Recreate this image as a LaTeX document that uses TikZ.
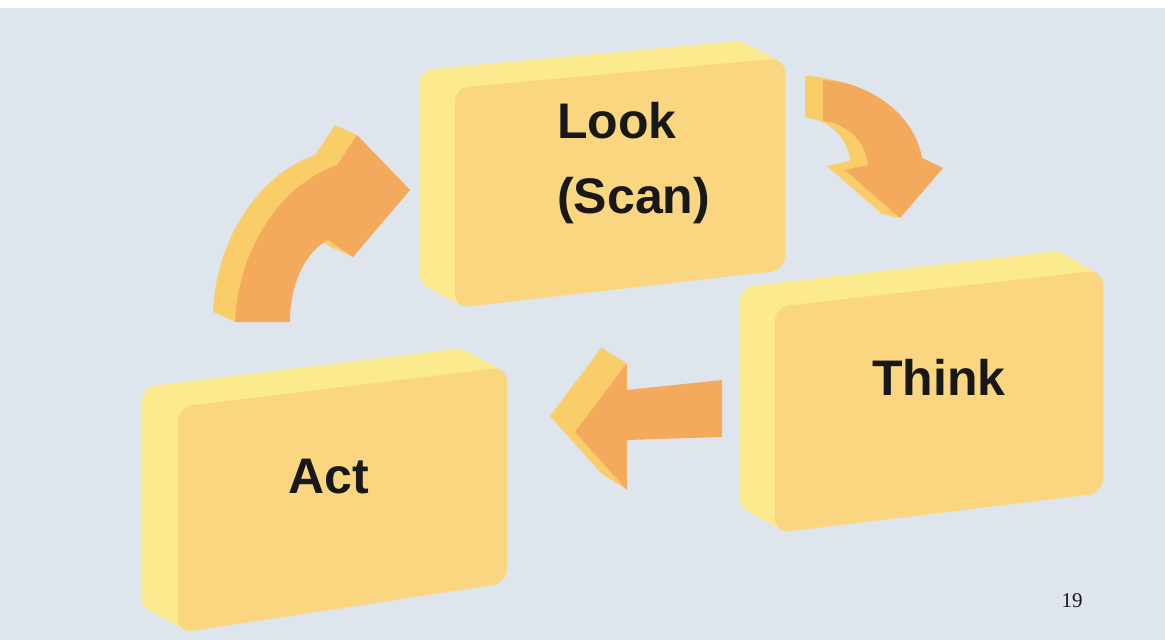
\documentclass[tikz,border=0pt]{standalone}
\usepackage{fontspec}
\setmainfont{Liberation Sans}
\newfontfamily\pagefont{Liberation Serif}
\definecolor{bgc}{RGB}{222,229,237}
\definecolor{boxface}{RGB}{250,214,128}
\definecolor{boxside}{RGB}{252,234,142}
\definecolor{arrface}{RGB}{244,170,92}
\definecolor{arrside}{RGB}{249,205,104}
\definecolor{txt}{RGB}{24,24,24}
\tikzset{
  boxfrontstyle/.style={fill=boxface, rounded corners=14pt},
  boxsidestyle/.style={fill=boxside, rounded corners=14pt},
  arrfrontstyle/.style={fill=arrface},
  arrsidestyle/.style={fill=arrside},
  label/.style={font=\bfseries\fontsize{50}{60}\selectfont, text=txt, inner sep=0pt},
  pagelabel/.style={font=\pagefont\fontsize{21}{25}\selectfont, text=txt, inner sep=0pt}
}
% 3D box: four front corners, depth vector
\newcommand\cubebox[6]{%
  \foreach \k in {1,...,24}{%
    \fill[boxsidestyle,shift={({#5*\k/24},{#6*\k/24})}] #1 -- #2 -- #3 -- #4 -- cycle;}%
  \fill[boxfrontstyle] #1 -- #2 -- #3 -- #4 -- cycle;}
% extruded side of a shape: depth vector and path
\newcommand\extrudeside[3]{%
  \foreach \k in {1,...,24}{%
    \fill[arrsidestyle,shift={({#1*\k/24},{#2*\k/24})}] #3;}}
\begin{document}
\begin{tikzpicture}[x=1pt,y=-1pt]
\useasboundingbox (0,0) rectangle (1165,640);
\fill[bgc] (0,0) rectangle (1165,640);
\fill[white] (0,0) rectangle (1165,8);

% Look box
\cubebox{(455,88)}{(785,58)}{(785,270)}{(455,308)}{-35}{-18}
\node[label, anchor=base west] (look) at (557,138) {Look};
\node[label, anchor=base west] (scan) at (557,213) {(Scan)};

% Think box
\cubebox{(775,307)}{(1103,270)}{(1103,493)}{(775,533)}{-35}{-20}
\node[label, anchor=base west] (think) at (872,395) {Think};

% Act box
\cubebox{(178,407)}{(507,367)}{(507,583)}{(178,633)}{-36}{-20}
\node[label, anchor=base west] (act) at (288,493) {Act};

% Arrow Act -> Look (curved, up-right)
\extrudeside{-22}{-10}{(235,322) .. controls (238,250) and (280,185) .. (337,165) -- (357,135) -- (410,190) -- (353,257) -- (328,240) .. controls (308,250) and (290,280) .. (290,322) -- cycle}
\fill[arrfrontstyle] (235,322) .. controls (238,250) and (280,185) .. (337,165) -- (357,135) -- (410,190) -- (353,257) -- (328,240) .. controls (308,250) and (290,280) .. (290,322) -- cycle;

% Arrow Look -> Think (curved, down-right)
\extrudeside{-18}{-4}{(823,80) .. controls (870,82) and (915,115) .. (922,158) -- (943,168) -- (900,218) -- (845,170) -- (868,165) .. controls (866,140) and (845,123) .. (823,121) -- cycle}
\fill[arrfrontstyle] (823,80) .. controls (870,82) and (915,115) .. (922,158) -- (943,168) -- (900,218) -- (845,170) -- (868,165) .. controls (866,140) and (845,123) .. (823,121) -- cycle;

% Arrow Think -> Act (straight, left)
\extrudeside{-25}{-16}{(575,432) -- (627,363) -- (627,490) -- cycle}
\fill[arrfrontstyle] (575,432) -- (627,363) -- (627,390) -- (722,380) -- (722,437) -- (627,440) -- (627,490) -- cycle;

% page number
\node[pagelabel, anchor=base] (page) at (1072,607) {19};
\end{tikzpicture}
\end{document}
